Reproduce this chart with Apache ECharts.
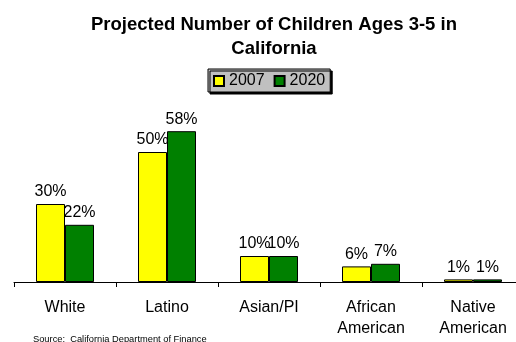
<!DOCTYPE html>
<html>
<head>
<meta charset="utf-8">
<script src="https://cdn.jsdelivr.net/npm/echarts@6/dist/echarts.min.js"></script>
<style>
  html, body { margin: 0; padding: 0; background: #fff; }
  #chart { width: 516px; height: 342px; }
</style>
</head>
<body>
<div id="chart"></div>
<script>
// Share of children ages 3-5 in California, by group (percent)
const categories = ['White', 'Latino', 'Asian/PI', 'African\nAmerican', 'Native\nAmerican'];
const seriesNames = ['2007', '2020'];
const values2007 = [30, 50, 10, 6, 1];
const values2020 = [22, 58, 10, 7, 1];
const sourceNote = 'Source:  California Department of Finance';

const FONT = 'Liberation Sans, Arial, Helvetica, sans-serif';

const chart = echarts.init(document.getElementById('chart'), null, { renderer: 'canvas' });

function barSeries(name, data, color) {
  return {
    name: name,
    type: 'bar',
    data: data,
    barWidth: 29,
    barGap: '0%',
    itemStyle: { color: color, borderColor: '#000', borderWidth: 1 },
    label: {
      show: true,
      position: 'top',
      distance: 4,
      formatter: '{c}%',
      color: '#000',
      fontSize: 16,
      fontFamily: FONT
    },
    emphasis: { disabled: true }
  };
}

chart.setOption({
  animation: false,
  backgroundColor: '#fff',
  title: {
    text: 'Projected Number of Children Ages 3-5 in\nCalifornia',
    left: 269,
    top: 8,
    textAlign: 'center',
    textStyle: {
      fontFamily: FONT,
      fontSize: 18.5,
      fontWeight: 'bold',
      color: '#000',
      lineHeight: 24
    }
  },
  legend: {
    data: seriesNames,
    left: 208,
    top: 69,
    padding: [4, 5, 3, 5],
    itemGap: 9,
    itemWidth: 10,
    itemHeight: 10,
    icon: 'rect',
    backgroundColor: '#c0c0c0',
    borderColor: '#000',
    borderWidth: 1,
    shadowColor: '#000',
    shadowBlur: 0,
    shadowOffsetX: 2,
    shadowOffsetY: 2,
    textStyle: { fontFamily: FONT, fontSize: 16, color: '#000', padding: [1, 0, 0, 0] },
    selectedMode: false
  },
  grid: {
    left: 14,
    width: 510,
    top: 100,
    bottom: 60,
    containLabel: false,
    outerBoundsMode: 'none'
  },
  xAxis: {
    type: 'category',
    data: categories,
    axisLine: { lineStyle: { color: '#000', width: 1 } },
    axisTick: { show: true, length: 5, lineStyle: { color: '#000' } },
    axisLabel: {
      color: '#000',
      fontFamily: FONT,
      fontSize: 16,
      lineHeight: 21,
      margin: 15,
      interval: 0
    }
  },
  yAxis: {
    type: 'value',
    min: 0,
    max: 70,
    show: false,
    splitLine: { show: false }
  },
  series: [
    barSeries(seriesNames[0], values2007, '#ffff00'),
    barSeries(seriesNames[1], values2020, '#008000')
  ],
  graphic: [
    {
      type: 'text',
      left: 33,
      top: 335,
      style: { text: sourceNote, fontFamily: FONT, fontSize: 9.3, fill: '#000' }
    }
  ]
});
</script>
</body>
</html>
